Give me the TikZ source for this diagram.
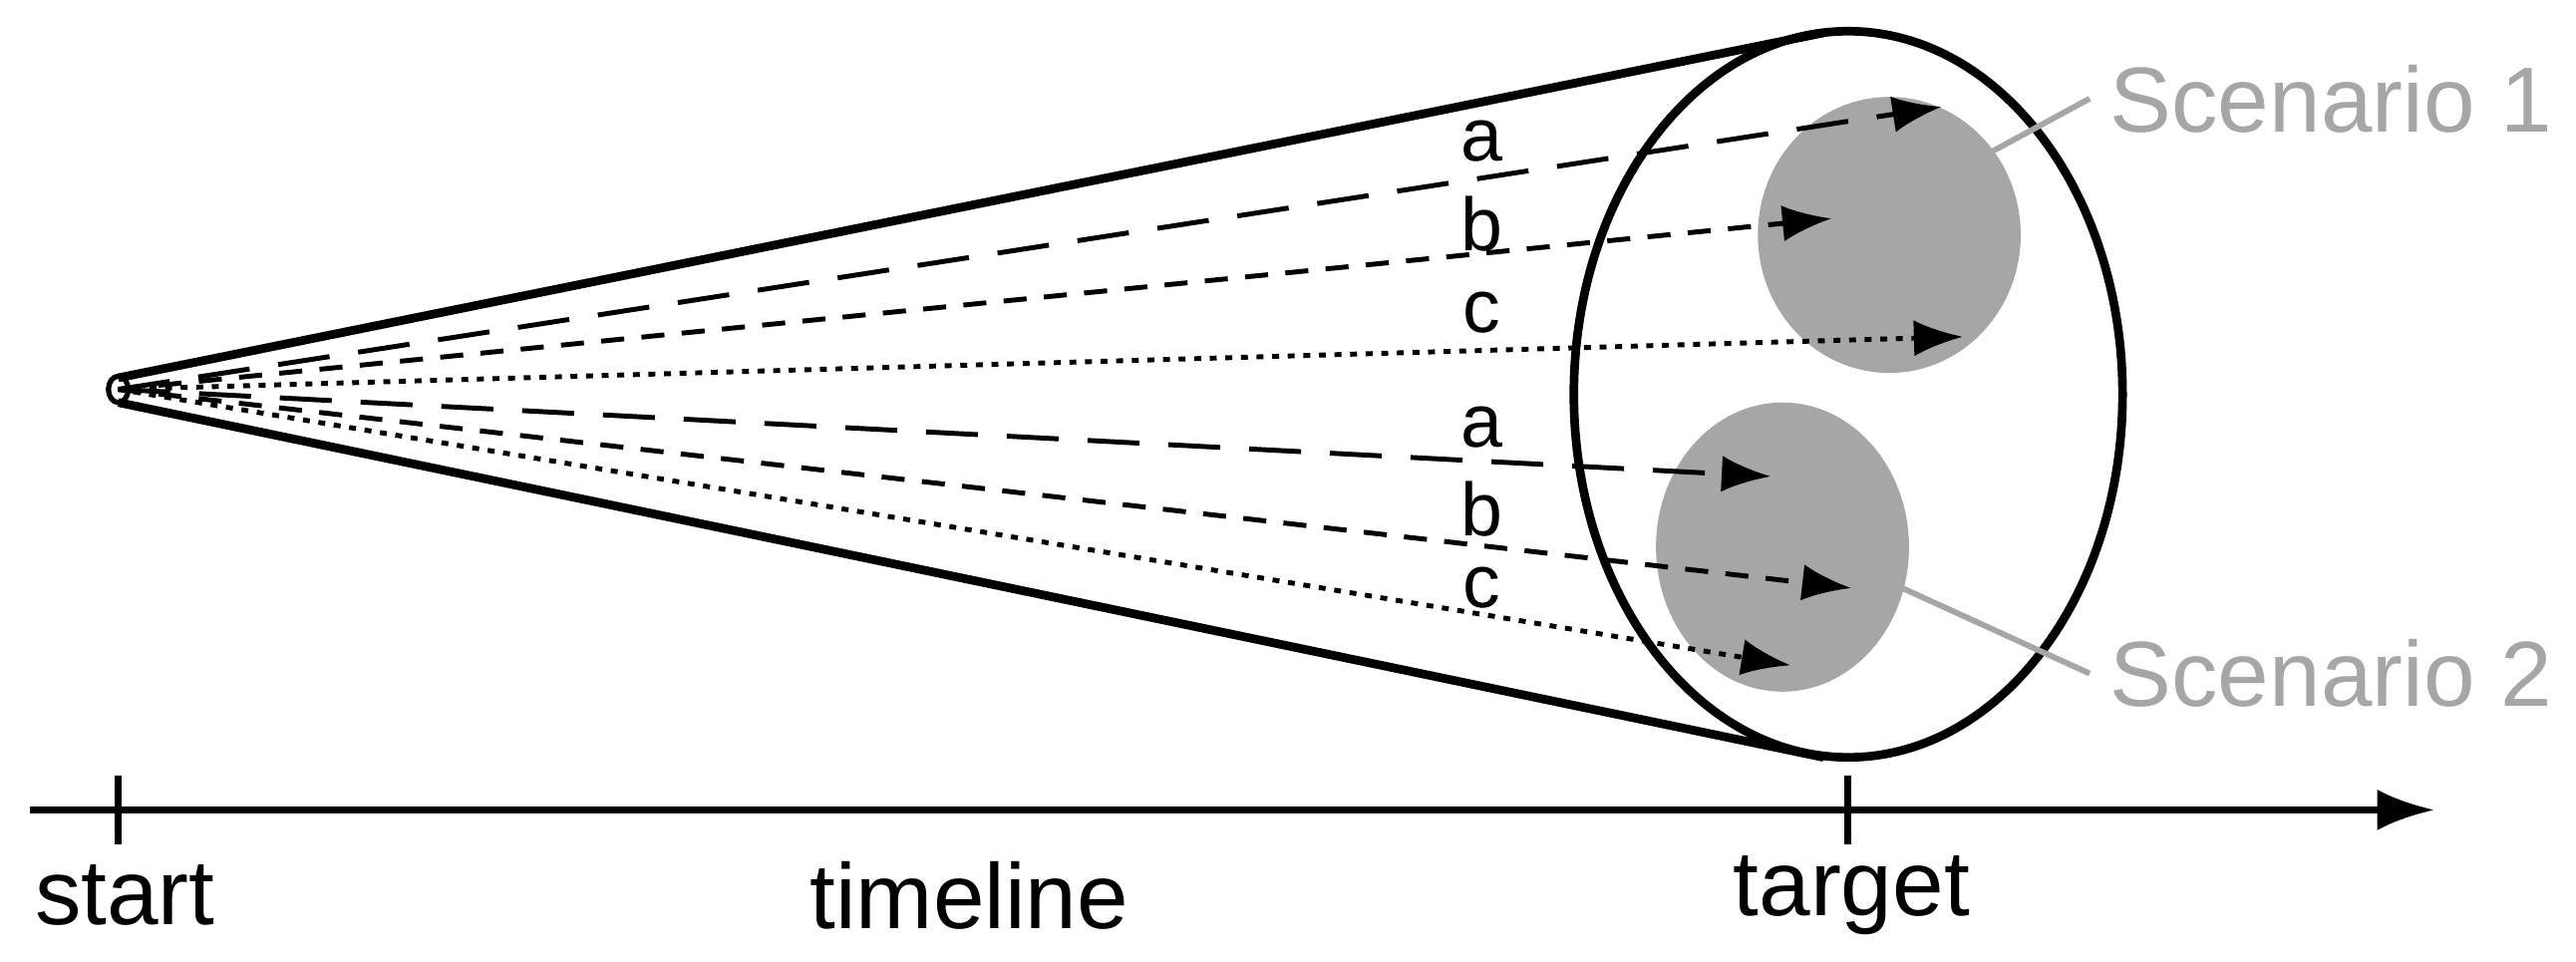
\documentclass[tikz,border=0pt]{standalone}
\usepackage{fontspec}
\setmainfont{Liberation Sans}
\usetikzlibrary{arrows.meta}
\begin{document}
\begin{tikzpicture}[x=0.01cm,y=-0.01cm,
  thick line/.style={line width=1.5pt},
  arr/.style={line width=0.85pt,-{Latex[length=0.3cm,width=0.22cm]}},
  lbl/.style={font=\fontsize{13}{13}\selectfont},
  big/.style={font=\fontsize{16}{16}\selectfont},
  gray lbl/.style={big,text=black!35}]
\useasboundingbox (0,0) rectangle (1568,585.5);
\fill[black!35] (1150,143) ellipse[x radius=80,y radius=84];
\fill[black!35] (1085,333) ellipse[x radius=77,y radius=88];
\draw[thick line] (1125,240) ellipse[x radius=167,y radius=221];
\coordinate (apex) at (72,237);
\draw[thick line] (72,230) -- (1110,20);
\draw[thick line] (72,245) -- (1110,461);
\draw[line width=0.9pt] (apex) ellipse[x radius=6,y radius=8];
\coordinate (e1) at (1182,65);
\coordinate (e2) at (1115,133);
\coordinate (e3) at (1195,205);
\coordinate (e4) at (1078,290);
\coordinate (e5) at (1127,358);
\coordinate (e6) at (1090,405);
\draw[arr,dash pattern=on 9pt off 5pt] (apex) -- (e1);
\draw[arr,dash pattern=on 4pt off 3pt] (apex) -- (e2);
\draw[arr,dash pattern=on 1.2pt off 1.5pt] (apex) -- (e3);
\draw[arr,dash pattern=on 9pt off 5pt] (apex) -- (e4);
\draw[arr,dash pattern=on 4pt off 3pt] (apex) -- (e5);
\draw[arr,dash pattern=on 1.2pt off 1.5pt] (apex) -- (e6);
\node[lbl] (la1) at (902,86) {a};
\node[lbl] (lb1) at (902,136) {b};
\node[lbl] (lc1) at (902,190) {c};
\node[lbl] (la2) at (902,260) {a};
\node[lbl] (lb2) at (902,310) {b};
\node[lbl] (lc2) at (902,358) {c};
\node[gray lbl,anchor=west] (s1) at (1272,60) {Scenario 1};
\node[gray lbl,anchor=west] (s2) at (1272,410) {Scenario 2};
\draw[black!35,line width=1pt] (1213,92) -- (s1.west);
\draw[black!35,line width=1pt] (1158,358) -- (s2.west);
\coordinate (t0) at (18,493);
\coordinate (t1) at (1482,493);
\draw[line width=1.2pt,-{Latex[length=0.35cm,width=0.25cm]}] (t0) -- (t1);
\draw[line width=1.2pt] (72,472) -- (72,514);
\draw[line width=1.2pt] (1125,472) -- (1125,514);
\node[big] (st) at (76,545) {start};
\node[big] (tl) at (590,545) {timeline};
\node[big] (tg) at (1127,545) {target};
\end{tikzpicture}
\end{document}
